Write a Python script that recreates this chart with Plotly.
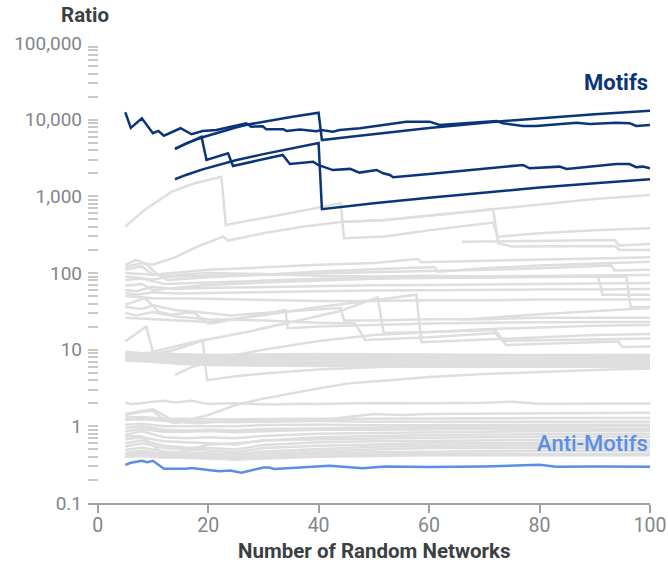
import plotly.graph_objects as go

# ---------------- data ----------------
# Motif series (dark navy)
motif_a_x = [5, 6, 8, 10, 11, 12, 15, 17, 19, 21.5, 26.9, 27.8, 29.9, 30.5, 33.6, 34.2, 36.6, 39.6, 40.5, 42.6, 43.8, 47.5, 55.9, 60.1, 61.9, 72.2, 73.4, 77, 79.4, 86.7, 89.1, 93.9, 96.3, 97.5, 100]
motif_a_y = [12500, 7800, 10400, 6650, 7130, 6180, 7730, 6450, 7130, 7340, 8980, 8100, 8200, 7500, 7500, 7130, 7450, 7070, 7340, 6980, 7340, 7730, 9420, 9420, 8530, 9620, 8980, 8280, 8280, 9130, 8800, 9130, 9000, 8280, 8530]
motif_b_x = [14, 16, 19, 22, 25, 27, 30, 35, 40, 40.6, 45, 50, 60, 72, 80, 90, 100]
motif_b_y = [4170, 4900, 5900, 6900, 7900, 8600, 9400, 10800, 12300, 5430, 5900, 6500, 7800, 9420, 10500, 11800, 13100]
motif_c_x = [14, 16, 19, 22, 25, 30, 35, 40, 40.6, 42, 50, 60, 70, 80, 90, 100]
motif_c_y = [1670, 1900, 2250, 2600, 2950, 3550, 4200, 4950, 680, 700, 813, 960, 1120, 1300, 1480, 1670]
motif_d_x = [14, 16, 18.8, 19.7, 23.6, 24.5, 33.5, 34.8, 39, 39.9, 42.6, 45.7, 47.4, 50.5, 51.7, 52.9, 53.5, 60, 70, 77, 78.2, 83.6, 84.9, 93.9, 96.3, 97.5, 98.7, 100]
motif_d_y = [4170, 4900, 6000, 2985, 3650, 2490, 3470, 2640, 2830, 2570, 2200, 2280, 2040, 2210, 2000, 1900, 1775, 1950, 2300, 2570, 2320, 2440, 2280, 2640, 2640, 2400, 2440, 2320]

# Anti-motif series (light blue)
anti_x = [5, 6, 8, 9, 10, 12, 16, 17, 20, 22, 24, 26, 30, 31, 32, 36, 42, 48, 52, 60, 70, 80, 83, 90, 100]
anti_y = [0.315, 0.335, 0.355, 0.34, 0.355, 0.28, 0.28, 0.285, 0.27, 0.26, 0.265, 0.248, 0.29, 0.29, 0.278, 0.29, 0.305, 0.285, 0.3, 0.295, 0.3, 0.315, 0.298, 0.3, 0.298]

# Background series (grey)
h1_x = [5, 8.5, 13.4, 17.6, 22.4, 23.2, 33, 44, 44.6, 52, 60, 71.6, 72.4, 80, 90, 100]
h1_y = [403, 665, 1150, 1480, 1800, 424, 572, 813, 284, 300, 360, 454, 298, 330, 360, 384]
g2_x = [5, 8, 10, 14, 18, 22.7, 23.6, 30, 37, 44, 52, 60, 71.6, 80, 90, 100]
g2_y = [120, 135, 128, 160, 220, 298, 265, 330, 400, 462, 492, 560, 679, 790, 920, 1043]
g3_x = [44, 52, 60, 71.6, 72.5, 75, 93.6, 94.5, 100]
g3_y = [462, 492, 560, 679, 245, 221, 225, 200, 200]
h4_x = [66, 80, 93.6, 94.4, 100]
h4_y = [256, 263, 270, 228, 239]
m1_x = [5, 10, 20, 30, 40, 50, 58, 58.6, 70, 80, 90, 100]
m1_y = [100, 95, 110, 120, 128, 135, 152, 138, 145, 150, 155, 160]
m2_x = [5, 7, 9, 10.2, 12.6, 16, 20, 30, 40, 50, 61, 61.6, 70, 80, 90, 100]
m2_y = [128, 148, 128, 104, 81, 85, 88, 95, 105, 112, 120, 104, 115, 125, 132, 140]
m3_x = [5, 8, 10, 15, 20, 30, 40, 50, 60, 70, 80, 93, 93.6, 100]
m3_y = [110, 122, 95, 90, 92, 95, 98, 102, 105, 110, 115, 125, 108, 110]
m4_x = [5, 10, 15, 20, 30, 40, 50, 60, 70, 80, 90, 100]
m4_y = [90, 82, 95, 100, 97, 92, 90, 92, 90, 92, 93, 94]
m5_x = [5, 10, 20, 30, 40, 50, 60, 70, 80, 90, 100]
m5_y = [50, 47, 46, 44, 43, 43, 44, 44, 45, 45, 45]
n1_x = [5, 8, 12, 20, 30, 40, 50, 60, 70, 80, 90.6, 91.4, 100]
n1_y = [81, 85, 72, 75, 80, 84, 86, 88, 89, 90, 90, 52, 52]
n2_x = [5, 8, 10, 15, 20, 30, 40, 50, 60, 70, 80, 95.7, 96.5, 100]
n2_y = [68, 72, 60, 65, 70, 75, 80, 84, 86, 88, 89, 90, 36, 36]
n3_x = [5, 7, 10, 14, 20, 30, 40, 50, 60, 70, 80, 90, 100]
n3_y = [60, 58, 66, 62, 64, 66, 68, 69, 70, 71, 72, 73, 74]
n12_y = [55, 52, 56, 54, 55, 57, 58, 59, 60, 60, 61, 61, 62]
n4_x = [5, 6.7, 8.5, 10, 10.9, 13.3, 15.7, 17.5, 20, 20.6, 27, 34, 34.4, 40, 50, 60, 70, 80, 90, 100]
n4_y = [38.5, 42, 47, 37.5, 31.5, 28.5, 30, 30, 22, 22, 27, 33, 19, 20, 21, 22, 22.5, 23, 23, 23]
n5_x = [5, 8, 10, 14, 20, 24, 30, 40, 44, 44.6, 50, 60, 70, 80, 90, 100]
n5_y = [36, 34, 38, 33, 30, 28, 30, 33, 35, 24, 24, 25, 25, 26, 26, 26]
n6_x = [5, 7, 10, 14, 20, 30, 40, 46.6, 48.4, 60, 72, 74, 85, 94.3, 95, 100]
n6_y = [30, 28, 31, 27, 25, 24, 22.5, 22, 13.4, 14.5, 16.5, 11.5, 12.2, 12.8, 10.8, 11]
n7_x = [5, 10, 15, 20, 30, 40, 50, 57.7, 58.6, 70, 80, 90, 100]
n7_y = [26, 25, 24, 23, 28, 36, 44, 52, 12.5, 13.5, 14.5, 15.5, 16]
n8_x = [66, 80, 100]
n8_y = [24.5, 29, 35]
n9_x = [14, 17, 20, 25, 30, 35, 40, 50, 60, 70, 80, 90, 100]
n9_y = [4.7, 5.9, 7, 8.5, 10, 11.5, 13, 15.5, 17, 18.5, 19.5, 20.5, 21]
n10_x = [5, 10, 14, 19.4, 27, 34, 44, 50.7, 51.8, 60, 72, 73.5, 85, 100]
n10_y = [9, 8.6, 10, 13.4, 17, 22, 32, 48, 16.5, 17, 18, 13, 13.5, 14]
s1_x = [5, 8.8, 10, 14, 19, 19.8, 25, 30, 40, 52, 60, 70, 80, 90, 100]
s1_y = [12.8, 20, 9.4, 11, 13.4, 4.0, 4.5, 4.9, 5.5, 6.0, 6.2, 6.3, 6.4, 6.5, 6.5]

band_x = [5, 8, 10, 14, 20, 30, 40, 50, 60, 70, 80, 90, 100]
b1_y = [9.4, 9.0, 9.2, 8.8, 8.5, 8.6, 8.8, 8.7, 8.6, 8.6, 8.5, 8.5, 8.5]
b2_y = [8.8, 8.5, 8.7, 8.3, 8.0, 8.2, 8.3, 8.2, 8.1, 8.2, 8.1, 8.1, 8.1]
b3_y = [8.3, 8.0, 8.2, 7.8, 7.6, 7.7, 7.8, 7.7, 7.7, 7.6, 7.6, 7.6, 7.6]
b4_y = [7.9, 8.2, 7.6, 7.4, 7.2, 7.4, 7.5, 7.3, 7.2, 7.2, 7.1, 7.1, 7.1]
b5_y = [7.5, 7.7, 7.2, 7.0, 6.9, 7.0, 6.9, 6.8, 6.8, 6.7, 6.7, 6.7, 6.7]
b6_y = [7.2, 7.0, 6.9, 6.7, 6.5, 6.6, 6.5, 6.4, 6.4, 6.3, 6.3, 6.3, 6.3]
b7_y = [8.0, 7.4, 7.0, 6.6, 6.3, 6.2, 6.1, 6.0, 6.0, 6.0, 6.0, 6.0, 6.0]

r1_x = [5, 8, 10, 12, 14, 20, 25, 30, 38.7, 45.7, 54, 60, 70, 80, 90, 100]
r1_y = [1.4, 1.55, 1.6, 1.2, 1.1, 1.4, 1.9, 2.3, 3.0, 3.66, 4.04, 4.4, 4.8, 5.15, 5.45, 5.7]
t1_x = [5, 6, 8, 10, 12, 14, 17, 20, 24, 28, 32, 36, 40, 50, 60, 70, 75, 80, 90, 100]
t1_y = [2.05, 1.95, 2.0, 2.1, 2.15, 2.05, 2.15, 1.95, 2.0, 1.98, 1.92, 1.97, 1.95, 2.02, 2.0, 2.03, 2.1, 1.97, 1.98, 1.98]
t2_x = [5, 8, 10, 12, 14, 18, 22, 30, 40, 50, 55, 60, 70, 80, 90, 100]
t2_y = [1.45, 1.6, 1.67, 1.4, 1.15, 1.1, 1.15, 1.2, 1.2, 1.45, 1.41, 1.45, 1.47, 1.48, 1.5, 1.5]

low_x = [5, 8, 12, 16, 20, 25, 30, 40, 50, 60, 70, 80, 90, 100]
l1_y = [1.3, 1.32, 1.27, 1.25, 1.24, 1.23, 1.25, 1.26, 1.27, 1.28, 1.27, 1.28, 1.28, 1.28]
l2_y = [1.22, 1.24, 1.18, 1.16, 1.15, 1.13, 1.15, 1.17, 1.15, 1.16, 1.15, 1.15, 1.16, 1.15]
l3_y = [1.05, 1.08, 1.0, 1.0, 1.02, 1.0, 1.04, 1.05, 1.03, 1.04, 1.05, 1.04, 1.05, 1.05]
l4_y = [0.95, 1.0, 0.9, 0.88, 0.9, 0.88, 0.92, 0.95, 0.96, 0.98, 0.97, 0.99, 1.0, 1.0]
l5_y = [0.86, 0.92, 0.85, 0.85, 0.87, 0.84, 0.86, 0.9, 0.9, 0.92, 0.92, 0.91, 0.92, 0.92]
l6_y = [0.78, 0.86, 0.72, 0.7, 0.72, 0.7, 0.75, 0.8, 0.82, 0.84, 0.85, 0.86, 0.86, 0.86]
l7_y = [0.74, 0.74, 0.43, 0.48, 0.58, 0.6, 0.65, 0.72, 0.75, 0.77, 0.78, 0.79, 0.79, 0.79]
l8_y = [0.68, 0.72, 0.64, 0.62, 0.6, 0.58, 0.66, 0.68, 0.7, 0.71, 0.72, 0.73, 0.73, 0.73]
l9_y = [0.6, 0.66, 0.56, 0.53, 0.52, 0.5, 0.57, 0.62, 0.64, 0.65, 0.66, 0.66, 0.66, 0.66]
l10_y = [0.545, 0.6, 0.52, 0.5, 0.48, 0.46, 0.52, 0.56, 0.58, 0.6, 0.6, 0.61, 0.61, 0.61]
l11_y = [0.49, 0.53, 0.47, 0.46, 0.45, 0.43, 0.47, 0.5, 0.54, 0.56, 0.56, 0.57, 0.57, 0.57]
l12_y = [0.45, 0.48, 0.44, 0.43, 0.42, 0.4, 0.44, 0.47, 0.5, 0.52, 0.52, 0.53, 0.53, 0.53]
l13_y = [0.42, 0.45, 0.42, 0.41, 0.4, 0.38, 0.41, 0.44, 0.46, 0.47, 0.47, 0.48, 0.48, 0.48]
l14_y = [0.405, 0.43, 0.4, 0.4, 0.39, 0.37, 0.39, 0.41, 0.43, 0.44, 0.44, 0.44, 0.44, 0.44]
l15_y = [0.4, 0.41, 0.39, 0.39, 0.38, 0.37, 0.38, 0.4, 0.41, 0.42, 0.42, 0.42, 0.42, 0.42]

# Axis ticks
x_tick_vals = [0, 20, 40, 60, 80, 100]
y_major_vals = [0.1, 1, 10, 100, 1000, 10000, 100000]
y_major_text = ["0.1", "1", "10", "100", "1,000", "10,000", "100,000"]

# ---------------- figure ----------------
GREY = "#dedede"
NAVY = "#0b357a"
LIGHT_BLUE = "#5b8ee6"
TITLE_C = "#3c4043"
TICK_C = "#80868b"

background = [
    (h1_x, h1_y), (g2_x, g2_y), (g3_x, g3_y), (h4_x, h4_y),
    (m1_x, m1_y), (m2_x, m2_y), (m3_x, m3_y), (m4_x, m4_y), (m5_x, m5_y),
    (n1_x, n1_y), (n2_x, n2_y), (n3_x, n3_y), (n3_x, n12_y), (n4_x, n4_y),
    (n5_x, n5_y), (n6_x, n6_y), (n7_x, n7_y), (n8_x, n8_y), (n9_x, n9_y),
    (n10_x, n10_y), (s1_x, s1_y),
    (band_x, b1_y), (band_x, b2_y), (band_x, b3_y), (band_x, b4_y),
    (band_x, b5_y), (band_x, b6_y), (band_x, b7_y),
    (r1_x, r1_y), (t1_x, t1_y), (t2_x, t2_y),
    (low_x, l1_y), (low_x, l2_y), (low_x, l3_y), (low_x, l4_y), (low_x, l5_y),
    (low_x, l6_y), (low_x, l7_y), (low_x, l8_y), (low_x, l9_y), (low_x, l10_y),
    (low_x, l11_y), (low_x, l12_y), (low_x, l13_y), (low_x, l14_y), (low_x, l15_y),
]

fig = go.Figure()
for xs, ys in background:
    fig.add_trace(go.Scatter(x=xs, y=ys, mode="lines",
                             line=dict(color=GREY, width=2.5), hoverinfo="skip"))

for xs, ys in [(motif_c_x, motif_c_y), (motif_d_x, motif_d_y),
               (motif_b_x, motif_b_y), (motif_a_x, motif_a_y)]:
    fig.add_trace(go.Scatter(x=xs, y=ys, mode="lines",
                             line=dict(color=NAVY, width=2.5)))

fig.add_trace(go.Scatter(x=anti_x, y=anti_y, mode="lines",
                         line=dict(color=LIGHT_BLUE, width=2.5)))

# y ticks: majors labelled, minors blank
y_tick_vals = []
y_tick_text = []
for i, base in enumerate(y_major_vals[:-1]):
    for m in range(1, 10):
        y_tick_vals.append(base * m)
        y_tick_text.append(y_major_text[i] if m == 1 else "")
y_tick_vals.append(y_major_vals[-1])
y_tick_text.append(y_major_text[-1])

fig.update_layout(
    width=668, height=565,
    margin=dict(l=88, r=18, t=43, b=62),
    plot_bgcolor="white", paper_bgcolor="white",
    showlegend=False,
    font=dict(family="Roboto", size=19, color=TICK_C),
    xaxis=dict(range=[-1.75, 100], tickvals=x_tick_vals, ticks="outside",
               ticklen=8, tickwidth=2, tickcolor="#9aa0a6",
               showline=True, linecolor="#9aa0a6", linewidth=2,
               showgrid=False, zeroline=False, automargin=False,
               ticklabelstandoff=-4,
               tickfont=dict(size=19.5, color=TICK_C)),
    yaxis=dict(type="log", range=[-1, 5], tickvals=y_tick_vals,
               ticktext=y_tick_text, ticks="inside", ticklen=10,
               tickwidth=2, tickcolor="#c8c8c8", showline=False,
               showgrid=False, zeroline=False, ticklabelstandoff=5,
               automargin=False,
               tickfont=dict(size=19, color=TICK_C)),
    annotations=[
        dict(text="<b>Ratio</b>", xref="paper", yref="paper", x=-0.005, y=1.061,
             xanchor="center", yanchor="middle", showarrow=False,
             font=dict(size=20.5, color=TITLE_C)),
        dict(text="<b>Number of Random Networks</b>", xref="paper", yref="paper",
             x=0.509, y=-0.104, xanchor="center", yanchor="middle", showarrow=False,
             font=dict(size=20.5, color=TITLE_C)),
        dict(text="<b>Motifs</b>", xref="paper", yref="paper", x=1.0, y=0.915,
             xanchor="right", yanchor="middle", showarrow=False,
             font=dict(size=22, color=NAVY)),
        dict(text="Anti-Motifs", xref="paper", yref="paper", x=1.0, y=0.1304,
             xanchor="right", yanchor="middle", showarrow=False,
             font=dict(size=22, color=LIGHT_BLUE, weight=500)),
    ],
)

fig.write_html("out.html", config={"displayModeBar": False},
               post_script="document.body.style.margin='0';document.body.style.overflow='hidden';")
